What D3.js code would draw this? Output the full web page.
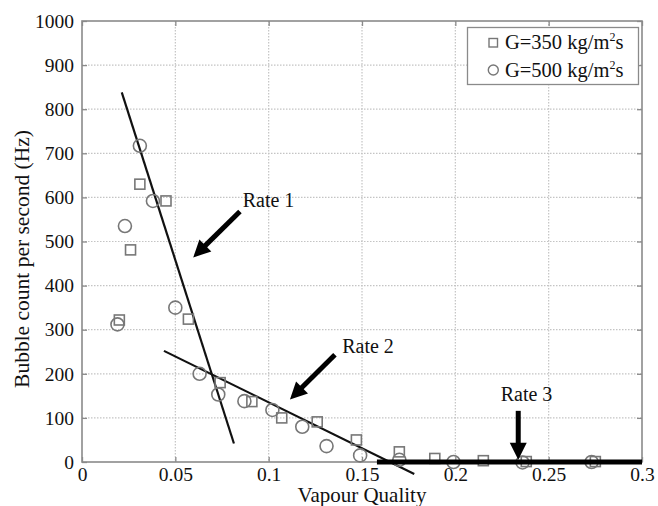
<!DOCTYPE html>
<html><head><meta charset="utf-8">
<script src="https://cdn.jsdelivr.net/npm/d3@7"></script>
<style>body{margin:0;background:#fff}svg{display:block}</style>
</head><body><svg id="c" width="658" height="506"></svg>
<script>
const xTicks = [0, 0.05, 0.1, 0.15, 0.2, 0.25, 0.3];
const xTickLabels = ["0", "0.05", "0.1", "0.15", "0.2", "0.25", "0.3"];
const yTicks = [0, 100, 200, 300, 400, 500, 600, 700, 800, 900, 1000];
const sqX = [0.020, 0.026, 0.031, 0.045, 0.057, 0.074, 0.091, 0.107, 0.126, 0.147, 0.170, 0.189, 0.215, 0.238, 0.275];
const sqY = [322, 481, 630, 592, 324, 180, 137, 100, 91, 50, 23, 8, 3, 1, 1];
const ciX = [0.019, 0.023, 0.031, 0.038, 0.050, 0.063, 0.073, 0.087, 0.102, 0.118, 0.131, 0.149, 0.170, 0.199, 0.236, 0.273];
const ciY = [312, 535, 717, 592, 350, 200, 153, 138, 118, 80, 36, 15, 5, 0, -1, 0];
const rate1 = [[0.0213, 838], [0.0814, 42]];
const rate2 = [[0.0439, 252], [0.178, -27]];
const rate3 = [[0.158, 0], [0.3, 0]];
const arrowLabels = ["Rate 1", "Rate 2", "Rate 3"];
const arrowTail = [[0.0846, 568], [0.1355, 243], [0.2337, 116]];
const arrowTip = [[0.0596, 464], [0.1114, 142], [0.2337, 5]];
const labelPos = [[0.0861, 578], [0.1394, 248], [0.2243, 139]];
const legendLabels = ["G=350 kg/m", "G=500 kg/m"];

const FONT = "'Liberation Serif','Times New Roman',serif";
const svg = d3.select("#c");
const L = 82, R = 642, T = 21, B = 462;
const x = d3.scaleLinear().domain([0, 0.3]).range([L, R]);
const y = d3.scaleLinear().domain([0, 1000]).range([B, T]);
const grid = "#c4c4c4", axisC = "#8a8a8a", mark = "#777";

function txt(sel, size) {
  return sel.style("font-family", FONT).style("font-size", size + "px").style("fill", "#111");
}

// grid
svg.append("g").selectAll("line").data(xTicks.slice(1, -1)).join("line")
  .attr("x1", d => x(d)).attr("x2", d => x(d)).attr("y1", T).attr("y2", B)
  .attr("stroke", grid).attr("stroke-width", 1.2).attr("stroke-dasharray", "1.5,1.5");
svg.append("g").selectAll("line").data(yTicks.slice(1, -1)).join("line")
  .attr("y1", d => y(d)).attr("y2", d => y(d)).attr("x1", L).attr("x2", R)
  .attr("stroke", grid).attr("stroke-width", 1.2).attr("stroke-dasharray", "1.5,1.5");

// axes with inward ticks
const fs = 19.5;
const ax = svg.append("g").attr("transform", `translate(0,${B})`)
  .call(d3.axisBottom(x).tickValues(xTicks).tickFormat((d, i) => xTickLabels[i]).tickSizeInner(-5).tickSizeOuter(0).tickPadding(5));
const ay = svg.append("g").attr("transform", `translate(${L},0)`)
  .call(d3.axisLeft(y).tickValues(yTicks).tickFormat(d3.format("d")).tickSizeInner(-5).tickSizeOuter(0).tickPadding(8));
const at = svg.append("g").attr("transform", `translate(0,${T})`)
  .call(d3.axisTop(x).tickValues(xTicks).tickFormat("").tickSizeInner(-5).tickSizeOuter(0));
const ar = svg.append("g").attr("transform", `translate(${R},0)`)
  .call(d3.axisRight(y).tickValues(yTicks).tickFormat("").tickSizeInner(-5).tickSizeOuter(0));
[ax, ay, at, ar].forEach(g => {
  g.attr("font-family", null).attr("font-size", null);
  g.select(".domain").remove();
  g.selectAll("line").attr("stroke", axisC).attr("stroke-width", 1.3);
  txt(g.selectAll("text"), fs);
});
svg.append("rect").attr("x", L).attr("y", T).attr("width", R - L).attr("height", B - T)
  .attr("fill", "none").attr("stroke", axisC).attr("stroke-width", 1.6);

// fitted lines
const line = d3.line().x(d => x(d[0])).y(d => y(d[1]));
svg.append("path").attr("d", line(rate1)).attr("stroke", "#111").attr("stroke-width", 2.2).attr("fill", "none");
svg.append("path").attr("d", line(rate2)).attr("stroke", "#111").attr("stroke-width", 2.2).attr("fill", "none");

// markers
const sq = 10;
svg.append("g").selectAll("rect").data(sqX).join("rect")
  .attr("x", (d, i) => x(d) - sq / 2).attr("y", (d, i) => y(sqY[i]) - sq / 2)
  .attr("width", sq).attr("height", sq).attr("fill", "none").attr("stroke", mark).attr("stroke-width", 1.6);
svg.append("g").selectAll("circle").data(ciX).join("circle")
  .attr("cx", d => x(d)).attr("cy", (d, i) => y(ciY[i])).attr("r", 6.5)
  .attr("fill", "none").attr("stroke", mark).attr("stroke-width", 1.6);

svg.append("path").attr("d", line(rate3)).attr("stroke", "#000").attr("stroke-width", 5).attr("fill", "none");

// arrows
arrowTail.forEach((t, i) => {
  const x0 = x(t[0]), y0 = y(t[1]), x1 = x(arrowTip[i][0]), y1 = y(arrowTip[i][1]);
  const dx = x1 - x0, dy = y1 - y0, len = Math.hypot(dx, dy), ux = dx / len, uy = dy / len;
  const hl = 17, hw = 8.5;
  const bx = x1 - ux * hl, by = y1 - uy * hl;
  svg.append("line").attr("x1", x0).attr("y1", y0).attr("x2", bx + ux * 2).attr("y2", by + uy * 2)
    .attr("stroke", "#000").attr("stroke-width", 5);
  svg.append("path").attr("d", `M${x1},${y1}L${bx - uy * hw},${by + ux * hw}L${bx + uy * hw},${by - ux * hw}Z`).attr("fill", "#000");
  txt(svg.append("text").attr("x", x(labelPos[i][0])).attr("y", y(labelPos[i][1])), 20).text(arrowLabels[i]);
});

// legend
const lg = svg.append("g");
lg.append("rect").attr("x", 467.5).attr("y", 27.5).attr("width", 171).attr("height", 57)
  .attr("fill", "#fff").attr("stroke", axisC).attr("stroke-width", 1.3);
lg.append("rect").attr("x", 489).attr("y", 38.5).attr("width", 8.5).attr("height", 8.5)
  .attr("fill", "none").attr("stroke", mark).attr("stroke-width", 1.4);
lg.append("circle").attr("cx", 493.3).attr("cy", 70).attr("r", 5)
  .attr("fill", "none").attr("stroke", mark).attr("stroke-width", 1.4);
legendLabels.forEach((s, i) => {
  const t = txt(lg.append("text").attr("x", 505).attr("y", 49 + i * 28), 20.5);
  t.append("tspan").text(s);
  t.append("tspan").style("font-size", "12px").attr("dy", -8).text("2");
  t.append("tspan").attr("dy", 8).text("s");
});

// axis titles
txt(svg.append("text").attr("x", 362).attr("y", 502).attr("text-anchor", "middle"), 21).text("Vapour Quality");
txt(svg.append("text").attr("transform", "translate(29,259) rotate(-90)").attr("text-anchor", "middle"), 21.5).text("Bubble count per second (Hz)");
</script></body></html>
